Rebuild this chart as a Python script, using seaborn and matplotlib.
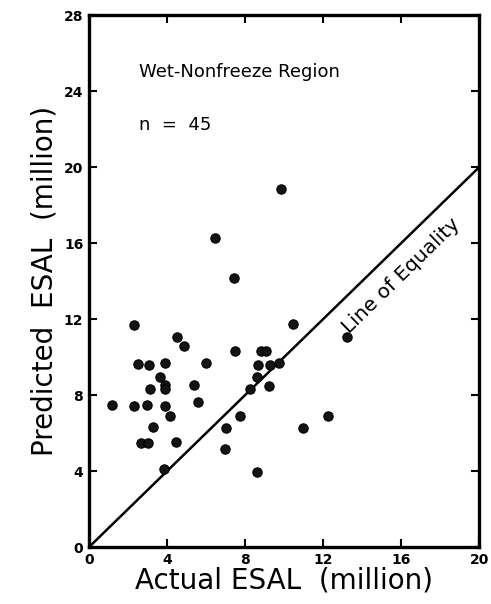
import matplotlib
matplotlib.use("Agg")
import matplotlib.pyplot as plt
import seaborn as sns
import pandas as pd

actual_esal = [2.30, 4.51, 4.85, 7.49, 8.84, 9.05, 2.54, 3.08, 3.92, 5.98, 8.64, 9.27, 9.73,
               3.65, 3.91, 3.91, 3.15, 5.40, 8.62, 8.24, 9.22, 1.18, 2.30, 2.98, 3.89, 5.60,
               4.15, 7.73, 3.27, 7.01, 2.69, 3.02, 4.46, 6.99, 9.84, 10.45, 13.21, 10.99,
               12.25, 3.87, 8.62, 6.44, 7.42]
predicted_esal = [11.70, 11.07, 10.61, 10.35, 10.35, 10.35, 9.62, 9.60, 9.68, 9.68, 9.58, 9.58, 9.68,
                  8.98, 8.55, 8.30, 8.35, 8.54, 8.98, 8.32, 8.46, 7.47, 7.42, 7.46, 7.41, 7.62,
                  6.93, 6.93, 6.32, 6.28, 5.51, 5.51, 5.53, 5.16, 18.86, 11.77, 11.04, 6.28,
                  6.89, 4.10, 3.95, 16.25, 14.19]
equality_line = [0, 20]
x_ticks = [0, 4, 8, 12, 16, 20]
y_ticks = [0, 4, 8, 12, 16, 20, 24, 28]

df = pd.DataFrame({"actual": actual_esal, "predicted": predicted_esal})

sns.set_style("ticks")
plt.rcParams['font.family'] = ['DejaVu Sans']
plt.rcParams['text.color'] = 'black'
plt.rcParams['axes.labelcolor'] = 'black'
plt.rcParams['xtick.color'] = 'black'
plt.rcParams['ytick.color'] = 'black'

fig = plt.figure(figsize=(4.91, 6.04), dpi=100)
ax = fig.add_axes([0.181, 0.094, 0.795, 0.881])

sns.lineplot(x=equality_line, y=equality_line, ax=ax, color="black", linewidth=1.8)
sns.scatterplot(data=df, x="actual", y="predicted", ax=ax, s=45, color="#141414",
                edgecolor="black", linewidth=0.8, zorder=3)

ax.set_xlim(0, 20)
ax.set_ylim(0, 28)
ax.set_xticks(x_ticks)
ax.set_yticks(y_ticks)
ax.set_xticklabels([str(t) for t in x_ticks], fontsize=10, fontweight="bold")
ax.set_yticklabels([str(t) for t in y_ticks], fontsize=10, fontweight="bold")
ax.tick_params(direction="in", length=6, width=1.5, top=True, right=True, pad=4)

for sp in ax.spines.values():
    sp.set_linewidth(2.4)
    sp.set_color("black")

ax.set_xlabel("Actual ESAL  (million)", fontsize=20, labelpad=0)
ax.set_ylabel("Predicted  ESAL  (million)", fontsize=20, labelpad=4)

ax.text(2.57, 25.0, "Wet-Nonfreeze Region", fontsize=13, va="center", ha="left")
ax.text(2.57, 22.2, "n  =  45", fontsize=13, va="center", ha="left")
ax.text(16.0, 14.3, "Line of Equality", fontsize=14.5, rotation=45,
        transform_rotates_text=True, rotation_mode="anchor", ha="center", va="center")

fig.savefig("out.png", dpi=100)
